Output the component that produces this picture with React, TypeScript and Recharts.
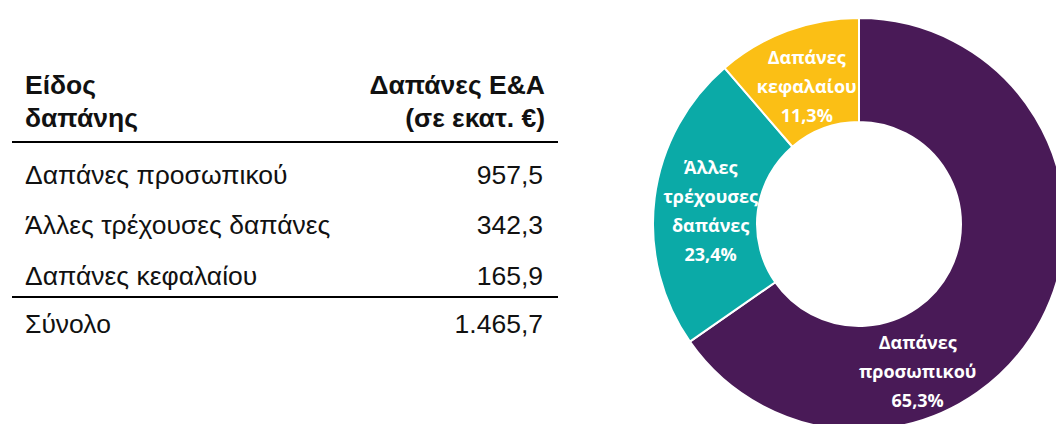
import React from 'react';
import { PieChart, Pie, Cell } from 'recharts';

const categories = ['Δαπάνες προσωπικού', 'Άλλες τρέχουσες δαπάνες', 'Δαπάνες κεφαλαίου'];
const values = [957.5, 342.3, 165.9];
const totalLabel = 'Σύνολο';
const headerLeft = ['Είδος', 'δαπάνης'];
const headerRight = ['Δαπάνες Ε&Α', '(σε εκατ. €)'];
const sliceLabels = [
  ['Δαπάνες', 'προσωπικού'],
  ['Άλλες', 'τρέχουσες', 'δαπάνες'],
  ['Δαπάνες', 'κεφαλαίου'],
];
const colors = ['#491A57', '#0BAAA7', '#FBBF15'];

const labelAngleShift = [-40.6, 2, 0.3];
const labelRadius = [158, 149, 148];

const total = values.reduce((a, b) => a + b, 0);

function fmt(v: number): string {
  const fixed = v.toFixed(1);
  const [intPart, dec] = fixed.split('.');
  const withDots = intPart.replace(/\B(?=(\d{3})+(?!\d))/g, '.');
  return withDots + ',' + dec;
}

const pieData = categories.map((name, i) => ({ name, value: values[i] }));

const RAD = Math.PI / 180;

const renderLabel = (props: any) => {
  const { cx, cy, midAngle, index, value } = props;
  const ang = midAngle + labelAngleShift[index];
  const r = labelRadius[index];
  const x = cx + r * Math.cos(-ang * RAD);
  const y = cy + r * Math.sin(-ang * RAD);
  const lines = [...sliceLabels[index], fmt((value / total) * 100) + '%'];
  const lh = 29;
  const start = -((lines.length - 1) / 2) * lh;
  return (
    <text
      x={x}
      y={y}
      fill="#ffffff"
      textAnchor="middle"
      dominantBaseline="central"
      style={{ fontFamily: '"Open Sans", sans-serif', fontWeight: 700, fontSize: 18 }}
    >
      {lines.map((l, k) => (
        <tspan key={k} x={x} y={y + start + k * lh}>
          {l}
        </tspan>
      ))}
    </text>
  );
};

const textBase: React.CSSProperties = {
  position: 'absolute',
  fontFamily: '"Liberation Sans", Arial, sans-serif',
  fontSize: 26.5,
  lineHeight: '30px',
  color: '#111',
  whiteSpace: 'nowrap',
};

export default function App() {
  const rowBaselines = [184, 234.5, 285];
  const totalBaseline = 333;
  const headerBaselines = [94.5, 127];
  const off = 24.2;
  return (
    <div style={{ position: 'absolute', left: 0, top: 0, width: 1056, height: 424, background: '#fff', overflow: 'hidden' }}>
      {headerLeft.map((t, i) => (
        <div key={'hl' + i} style={{ ...textBase, fontWeight: 700, left: 25, top: headerBaselines[i] - off }}>{t}</div>
      ))}
      {headerRight.map((t, i) => (
        <div key={'hr' + i} style={{ ...textBase, fontWeight: 700, right: 1056 - 545, top: headerBaselines[i] - off, textAlign: 'right' }}>{t}</div>
      ))}
      <div style={{ position: 'absolute', left: 12, width: 546, top: 141, height: 2, background: '#000' }} />
      {categories.map((c, i) => (
        <React.Fragment key={'r' + i}>
          <div style={{ ...textBase, left: 25, top: rowBaselines[i] - off }}>{c}</div>
          <div style={{ ...textBase, right: 1056 - 543, top: rowBaselines[i] - off, textAlign: 'right' }}>{fmt(values[i])}</div>
        </React.Fragment>
      ))}
      <div style={{ position: 'absolute', left: 12, width: 546, top: 296, height: 2, background: '#000' }} />
      <div style={{ ...textBase, left: 25, top: totalBaseline - off }}>{totalLabel}</div>
      <div style={{ ...textBase, right: 1056 - 543, top: totalBaseline - off, textAlign: 'right' }}>{fmt(total)}</div>
      <div style={{ position: 'absolute', left: 0, top: 0 }}>
        <PieChart width={1056} height={424} margin={{ top: 0, right: 0, bottom: 0, left: 0 }}>
          <Pie
            data={pieData}
            dataKey="value"
            cx={859}
            cy={224}
            innerRadius={102}
            outerRadius={206}
            startAngle={90}
            endAngle={-270}
            stroke="#ffffff"
            strokeWidth={2}
            labelLine={false}
            label={renderLabel}
            isAnimationActive={false}
          >
            {pieData.map((d, i) => (
              <Cell key={d.name} fill={colors[i]} />
            ))}
          </Pie>
        </PieChart>
      </div>
    </div>
  );
}
